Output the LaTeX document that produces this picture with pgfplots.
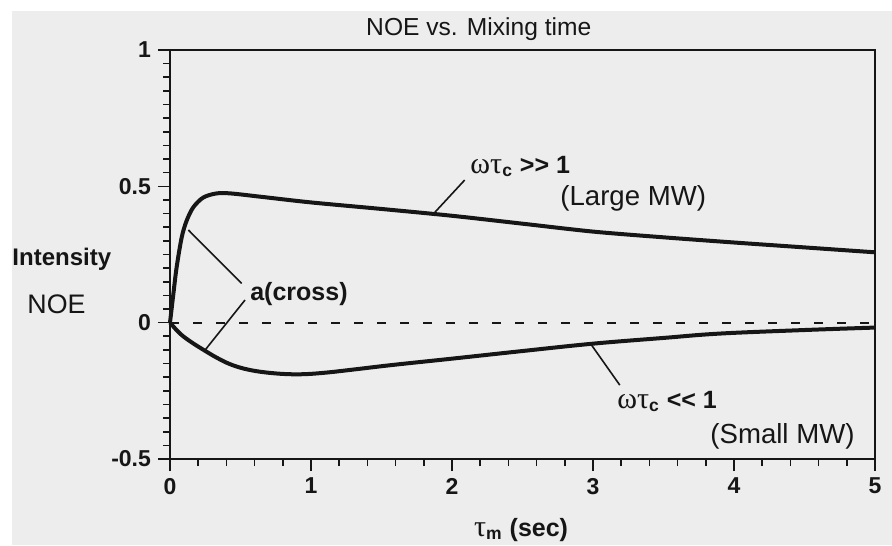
\documentclass[border=0pt]{standalone}
\usepackage{fontspec}
\setmainfont{Liberation Sans}
\newfontfamily\grk{Liberation Serif}
\usepackage{pgfplots}
\pgfplotsset{compat=1.18}
\definecolor{bg}{RGB}{237,237,237}
\definecolor{ink}{RGB}{22,22,22}

\newcommand{\fs}[1]{\fontsize{#1}{#1}\selectfont}

\begin{document}
\begin{tikzpicture}
% page and scanned-paper background
\path[use as bounding box] (-85pt,-43pt) rectangle (361pt,229.5pt);
\fill[bg] (-79pt,-43pt) rectangle (361pt,224pt);

\begin{axis}[
    at={(0,0)}, anchor=south west,
    scale only axis,
    width=352.5pt, height=204.5pt,
    xmin=0, xmax=5, ymin=-0.5, ymax=1,
    xtick={0,1,2,3,4,5},
    ytick={-0.5,0,0.5,1},
    minor x tick num=4,
    minor y tick num=9,
    tick align=outside,
    tick pos=left,
    major tick length=6pt,
    minor tick length=3.5pt,
    axis line style={ink, line width=1pt},
    every tick/.style={ink, line width=0.8pt},
    ticklabel style={font=\bfseries\fs{11.5}, text=ink},
    /pgf/number format/assume math mode=true,
    clip=false,
]

% zero reference
\addplot[ink, line width=0.9pt, dash pattern=on 4.5pt off 7pt] coordinates {(0,0) (5,0)};

% large MW (omega tau_c >> 1)
\addplot[ink, line width=2pt, smooth, tension=0.5] coordinates {
    (0,0) (0.024,0.106) (0.047,0.203) (0.083,0.313) (0.118,0.374)
    (0.165,0.423) (0.236,0.459) (0.33,0.474) (0.43,0.474) (0.64,0.462)
    (1.0,0.441) (1.5,0.417) (2.0,0.392) (2.5,0.363) (3.0,0.334)
    (3.5,0.313) (4.0,0.294) (4.5,0.276) (5.0,0.258)
};

% small MW (omega tau_c << 1)
\addplot[ink, line width=2pt, smooth, tension=0.6] coordinates {
    (0,0) (0.071,-0.040) (0.15,-0.071) (0.248,-0.103) (0.33,-0.128)
    (0.42,-0.151) (0.52,-0.168) (0.64,-0.180) (0.80,-0.188) (0.95,-0.189)
    (1.11,-0.183) (1.3,-0.172) (1.58,-0.155) (2.0,-0.132)
    (2.5,-0.104) (3.0,-0.077) (3.5,-0.056) (3.9,-0.040) (4.5,-0.027)
    (5.0,-0.018)
};

% leader lines
\draw[ink, line width=0.8pt] (axis cs:1.87,0.40) -- (axis cs:2.09,0.523);
\draw[ink, line width=0.8pt] (axis cs:0.13,0.34) -- (axis cs:0.508,0.144);
\draw[ink, line width=0.8pt] (axis cs:0.532,0.083) -- (axis cs:0.248,-0.101);
\draw[ink, line width=0.8pt] (axis cs:2.98,-0.075) -- (axis cs:3.19,-0.229);

% annotations
\node[anchor=base west, inner sep=0pt, text=ink, font=\bfseries\fs{12.5}]
    at (axis cs:2.128,0.548) {{\mdseries\grk\fs{15}ωτ}\textsubscript{c} >{}> 1};
\node[anchor=base west, inner sep=0pt, text=ink, font=\fs{13.8}]
    at (axis cs:2.766,0.431) {(Large MW)};
\node[anchor=base west, inner sep=0pt, text=ink, font=\bfseries\fs{12.5}]
    at (axis cs:0.567,0.083) {a(cross)};
\node[anchor=base west, inner sep=0pt, text=ink, font=\bfseries\fs{12.5}]
    at (axis cs:3.17,-0.314) {{\mdseries\grk\fs{15}ωτ}\textsubscript{c} <{}< 1};
\node[anchor=base west, inner sep=0pt, text=ink, font=\fs{13.8}]
    at (axis cs:3.83,-0.442) {(Small MW)};

% title and axis labels
\node[anchor=base, inner sep=0pt, text=ink, font=\fs{12.3}]
    at (axis cs:2.19,1.054) {NOE vs. Mixing time};
\node[anchor=base west, inner sep=0pt, text=ink, font=\bfseries\fs{12}]
    at (axis cs:-1.12,0.211) {Intensity};
\node[anchor=base west, inner sep=0pt, text=ink, font=\fs{13.4}]
    at (axis cs:-1.014,0.035) {NOE};
\node[anchor=base, inner sep=0pt, text=ink, font=\bfseries\fs{12.5}]
    at (axis cs:2.49,-0.783) {{\mdseries\grk\fs{15}τ}\textsubscript{m} (sec)};

\end{axis}
\end{tikzpicture}
\end{document}
